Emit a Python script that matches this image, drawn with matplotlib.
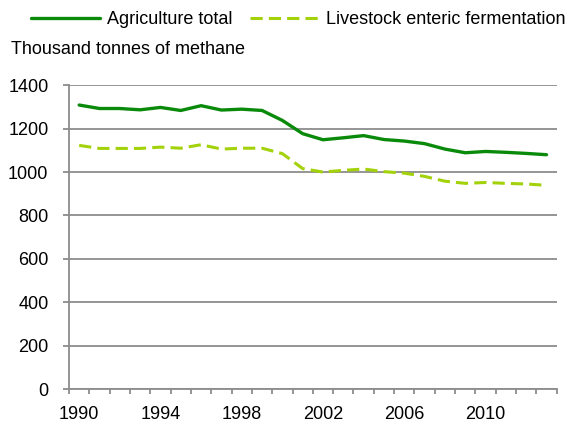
import matplotlib
matplotlib.use("Agg")
import matplotlib.pyplot as plt
import numpy as np

years = list(range(1990, 2014))
agriculture_total = [1309, 1293, 1293, 1287, 1298, 1284, 1306, 1286, 1290, 1284,
                     1238, 1177, 1149, 1158, 1168, 1150, 1143, 1131, 1106, 1089,
                     1095, 1091, 1086, 1080]
enteric_fermentation = [1123, 1109, 1109, 1109, 1115, 1110, 1126, 1106, 1110, 1110,
                        1085, 1016, 1000, 1008, 1014, 1002, 995, 980, 958, 948,
                        952, 948, 945, 939]
y_ticks = [0, 200, 400, 600, 800, 1000, 1200, 1400]
x_labels = ["1990", "1994", "1998", "2002", "2006", "2010"]

plt.rcParams['font.family'] = ['Liberation Sans', 'DejaVu Sans']

FS = 13
GRAY = '#8c8c8c'
fig = plt.figure(figsize=(5.74, 4.23), dpi=100)
L, R, T, B = 69, 556.7, 85.3, 389
ax = fig.add_axes([L/574, 1 - B/423, (R-L)/574, (B-T)/423])

x = np.arange(len(years))
ax.plot(x, agriculture_total, color='#0a8a0a', lw=2.4, label='Agriculture total',
        solid_capstyle='round', solid_joinstyle='round')
ax.plot(x, enteric_fermentation, color='#a3d20a', lw=2.2, ls=(0, (4, 2.0)),
        label='Livestock enteric fermentation')

ax.set_xlim(-0.5, len(years) - 0.5)
ax.set_ylim(0, 1400)
ax.set_yticks(y_ticks)
ax.yaxis.grid(True, color=GRAY, lw=1.3)
ax.set_axisbelow(True)
ax.tick_params(axis='y', length=4.3, width=1.3, color=GRAY, labelsize=FS, pad=10.5)
ax.set_xticks(np.arange(len(years) + 1) - 0.5, minor=False)
ax.set_xticklabels([])
ax.tick_params(axis='x', which='major', length=3.6, color=GRAY, width=1.3, direction='out')
label_pos = [years.index(int(l)) for l in x_labels]
ax.set_xticks(label_pos, minor=True)
ax.set_xticklabels(x_labels, minor=True)
ax.tick_params(axis='x', which='minor', length=0, labelsize=FS, pad=12.3)

for s in ['top', 'right']:
    ax.spines[s].set_visible(False)
for s in ['left', 'bottom']:
    ax.spines[s].set_color(GRAY)
    ax.spines[s].set_linewidth(1.3)

leg = fig.legend(loc='center left', bbox_to_anchor=(31/574, 1 - 19.5/423), ncol=2, frameon=False,
                 fontsize=FS, handlelength=3.8, columnspacing=1.0, handletextpad=0.39,
                 borderaxespad=0, borderpad=0)
fig.text(11/574, 1 - 49/423, 'Thousand tonnes of methane', fontsize=FS, va='center', ha='left')

fig.savefig('out.png', dpi=100)
